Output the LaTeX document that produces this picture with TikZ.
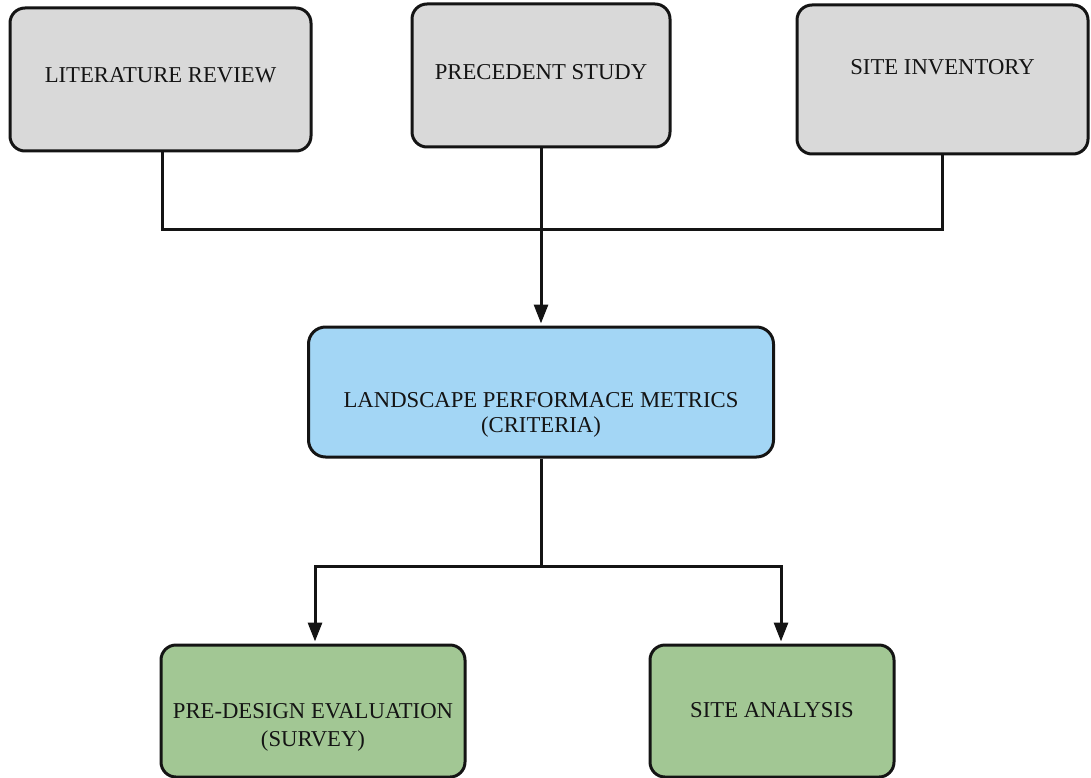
\documentclass[tikz,border=0pt]{standalone}
\usepackage{fontspec}
\setmainfont{Liberation Serif}
\usetikzlibrary{arrows.meta}
\definecolor{boxgray}{HTML}{D9D9D9}
\definecolor{boxblue}{HTML}{A3D6F5}
\definecolor{boxgreen}{HTML}{A2C794}
\definecolor{ink}{HTML}{141414}

\begin{document}
\begin{tikzpicture}[x=1pt,y=-1pt,
  stage/.style={draw=ink, line width=3pt, rounded corners=15pt,
    align=center, font=\fontsize{22.7}{25}\selectfont, text=ink, inner sep=0pt},
  link/.style={draw=ink, line width=3pt},
  feed/.style={link, -{Triangle[length=19pt,width=14pt]}, shorten >=2pt},
]
\useasboundingbox (0,0) rectangle (1091,778);

% sources
\node[stage, fill=boxgray, minimum width=301pt, minimum height=143pt,
      text height=23.5pt, text depth=16.5pt] (lit) at (160.5,79.5) {LITERATURE REVIEW};
\node[stage, fill=boxgray, minimum width=258pt, minimum height=143pt,
      text height=24.5pt, text depth=15.5pt] (prec) at (541,75.5) {PRECEDENT STUDY};
\node[stage, fill=boxgray, minimum width=291pt, minimum height=149pt,
      text height=15.5pt, text depth=24.5pt] (inv) at (942.5,79.5) {SITE INVENTORY};

% criteria (the last line sits on the node baseline)
\node[stage, fill=boxblue, minimum width=465pt, minimum height=130pt, rounded corners=17pt,
      text height=80pt, text depth=0pt] (crit) at (541,392)
      {LANDSCAPE PERFORMACE METRICS\\(CRITERIA)};

% outcomes
\node[stage, fill=boxgreen, minimum width=304pt, minimum height=132pt,
      text height=70pt, text depth=0pt] (pre) at (313,711)
      {PRE-DESIGN EVALUATION\\[3pt](SURVEY)};
\node[stage, fill=boxgreen, minimum width=244pt, minimum height=132pt,
      text height=26pt, text depth=14pt] (site) at (772,711) {SITE ANALYSIS};

% connectors
\coordinate (join) at (541,229);
\coordinate (split) at (541,566);
\draw[link] ([xshift=2pt]lit.south) |- (join) -| (inv.south);
\draw[feed] (prec.south) -- (crit.north);
\draw[link] (crit.south) -- (split);
\draw[feed] (split) -| ([xshift=2pt]pre.north);
\draw[feed] (split) -| ([xshift=9pt]site.north);
\end{tikzpicture}
\end{document}
